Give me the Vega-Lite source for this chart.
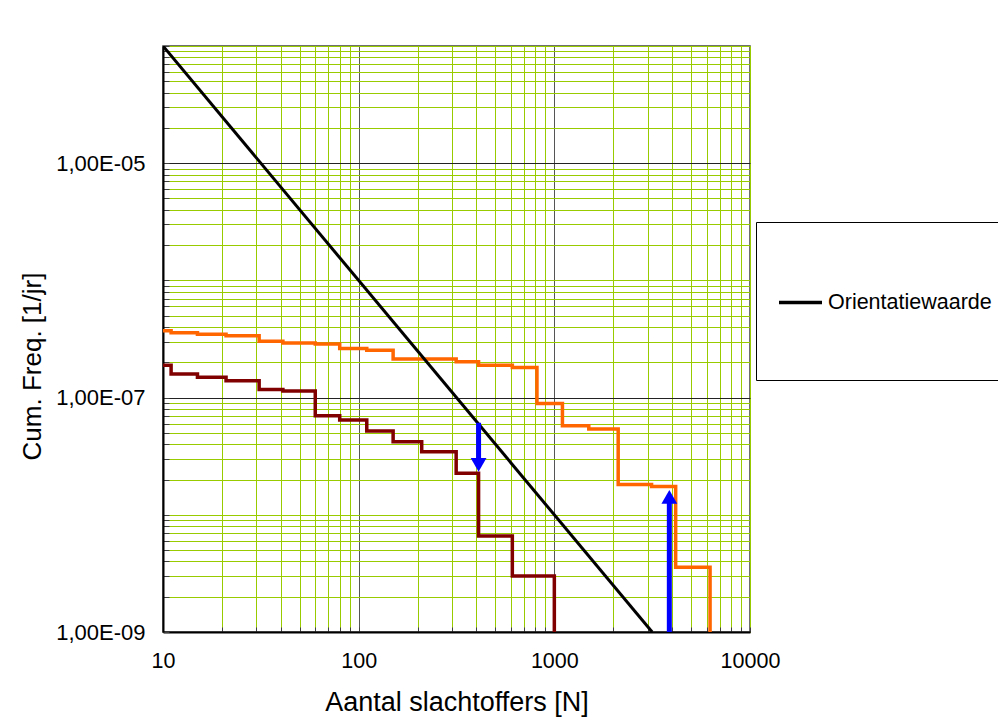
{
  "$schema": "https://vega.github.io/schema/vega-lite/v6.json",
  "width": 587,
  "height": 586,
  "autosize": {"type": "none"},
  "padding": {"left": 163, "top": 46, "right": 248, "bottom": 92},
  "background": "white",
  "config": {
    "font": "Liberation Sans",
    "view": {"stroke": "#404040", "strokeWidth": 1.5},
    "axis": {
      "labelFont": "Liberation Sans",
      "titleFont": "Liberation Sans",
      "labelColor": "#000000",
      "titleColor": "#000000",
      "titleFontWeight": "normal",
      "labelFontSize": 21.5,
      "titleFontSize": 26,
      "labelOverlap": false,
      "labelFlush": false,
      "labelBound": false,
      "domainColor": "#000000",
      "domainWidth": 2,
      "tickColor": "#404040",
      "gridWidth": 1
    },
    "legend": {
      "labelFont": "Liberation Sans"
    }
  },
  "datasets": {
    "orange": [
      {"N": 10, "F": 3.71e-7}, {"N": 11, "F": 3.57e-7}, {"N": 15, "F": 3.48e-7},
      {"N": 21, "F": 3.37e-7}, {"N": 31, "F": 3.03e-7}, {"N": 41, "F": 2.93e-7},
      {"N": 60, "F": 2.86e-7}, {"N": 80, "F": 2.63e-7}, {"N": 110, "F": 2.54e-7},
      {"N": 150, "F": 2.14e-7}, {"N": 315, "F": 2.02e-7}, {"N": 410, "F": 1.89e-7},
      {"N": 610, "F": 1.81e-7}, {"N": 815, "F": 8.9e-8}, {"N": 1100, "F": 5.75e-8},
      {"N": 1500, "F": 5.4e-8}, {"N": 2120, "F": 1.81e-8}, {"N": 3140, "F": 1.74e-8},
      {"N": 4170, "F": 3.56e-9}, {"N": 6250, "F": 1e-9}
    ],
    "darkred": [
      {"N": 10, "F": 1.89e-7}, {"N": 11, "F": 1.59e-7}, {"N": 15, "F": 1.49e-7},
      {"N": 21, "F": 1.39e-7}, {"N": 31, "F": 1.17e-7}, {"N": 41, "F": 1.14e-7},
      {"N": 60, "F": 7.0e-8}, {"N": 80, "F": 6.43e-8}, {"N": 110, "F": 5.18e-8},
      {"N": 150, "F": 4.2e-8}, {"N": 210, "F": 3.45e-8}, {"N": 315, "F": 2.26e-8},
      {"N": 410, "F": 6.6e-9}, {"N": 610, "F": 3.0e-9}, {"N": 1000, "F": 1e-9}
    ],
    "norm": [
      {"N": 10, "F": 1e-4, "serie": "Orientatiewaarde"},
      {"N": 3162.28, "F": 1e-9, "serie": "Orientatiewaarde"}
    ],
    "arrows": [
      {"N": 410, "F1": 6.1e-8, "F2": 2.67e-8, "dir": "down"},
      {"N": 3870, "F1": 1e-9, "F2": 1.42e-8, "dir": "up"}
    ]
  },
  "layer": [
    {
      "data": {"name": "orange"},
      "mark": {"type": "line", "interpolate": "step-after", "color": "#FF6600", "strokeWidth": 3.5, "clip": true},
      "encoding": {
        "x": {
          "field": "N", "type": "quantitative",
          "scale": {"type": "log", "domain": [10, 10000], "nice": false},
          "axis": {
            "title": "Aantal slachtoffers [N]",
            "values": [10,20,30,40,50,60,70,80,90,100,200,300,400,500,600,700,800,900,1000,2000,3000,4000,5000,6000,7000,8000,9000,10000],
            "labelExpr": "datum.value == 10 || datum.value == 100 || datum.value == 1000 || datum.value == 10000 ? format(datum.value, 'd') : ''",
            "grid": true,
            "gridColor": {"condition": {"test": "datum.value == 100 || datum.value == 1000", "value": "#555555"}, "value": "#99CC00"},
            "tickSize": -5,
            "labelPadding": 23,
            "labelBaseline": "top",
            "titleY": 70,
            "titleX": 293.5,
            "titleFontSize": 27,
            "titleAlign": "center",
            "titleBaseline": "middle"
          }
        },
        "y": {
          "field": "F", "type": "quantitative",
          "scale": {"type": "log", "domain": [1e-9, 1e-4], "nice": false},
          "axis": {
            "title": "Cum. Freq. [1/jr]",
            "values": [1e-9,2e-9,3e-9,4e-9,5e-9,6e-9,7e-9,8e-9,9e-9,1e-8,2e-8,3e-8,4e-8,5e-8,6e-8,7e-8,8e-8,9e-8,1e-7,2e-7,3e-7,4e-7,5e-7,6e-7,7e-7,8e-7,9e-7,1e-6,2e-6,3e-6,4e-6,5e-6,6e-6,7e-6,8e-6,9e-6,1e-5,2e-5,3e-5,4e-5,5e-5,6e-5,7e-5,8e-5,9e-5,1e-4],
            "labelExpr": "datum.value == 1e-9 ? '1,00E-09' : datum.value == 1e-7 ? '1,00E-07' : datum.value == 1e-5 ? '1,00E-05' : ''",
            "grid": true,
            "gridColor": {"condition": {"test": "datum.value == 1e-7 || datum.value == 1e-5", "value": "#222222"}, "value": "#99CC00"},
            "tickSize": -6,
            "labelPadding": 24,
            "labelFontSize": 22,
            "labelBaseline": "middle",
            "titleAngle": 270,
            "titleX": -131,
            "titleY": 320,
            "titleAlign": "center",
            "titleBaseline": "middle"
          }
        }
      }
    },
    {
      "data": {"name": "darkred"},
      "mark": {"type": "line", "interpolate": "step-after", "color": "#800000", "strokeWidth": 3.5, "clip": true},
      "encoding": {
        "x": {"field": "N", "type": "quantitative"},
        "y": {"field": "F", "type": "quantitative"}
      }
    },
    {
      "data": {"name": "norm"},
      "mark": {"type": "line", "strokeWidth": 3, "clip": true},
      "encoding": {
        "x": {"field": "N", "type": "quantitative"},
        "y": {"field": "F", "type": "quantitative"},
        "color": {
          "field": "serie", "type": "nominal",
          "scale": {"domain": ["Orientatiewaarde"], "range": ["#000000"]},
          "legend": {
            "title": null,
            "orient": "none",
            "legendX": 593,
            "legendY": 176,
            "padding": 24,
            "strokeColor": "#000000",
            "fillColor": "#ffffff",
            "symbolType": "M-1,0H-0.211M0,-1L0,-1M0,0.85L0,0.85",
            "symbolSize": 11881,
            "symbolStrokeWidth": 3.5,
            "symbolOffset": -3,
            "labelFontSize": 21.5,
            "labelColor": "#000000",
            "labelOffset": -62,
            "labelLimit": 400
          }
        }
      }
    },
    {
      "data": {"name": "arrows"},
      "mark": {"type": "rule", "color": "#0000FF", "strokeWidth": 5},
      "encoding": {
        "x": {"field": "N", "type": "quantitative"},
        "y": {"field": "F1", "type": "quantitative"},
        "y2": {"field": "F2"}
      }
    },
    {
      "data": {"name": "arrows"},
      "mark": {"type": "point", "filled": true, "color": "#0000FF", "size": 250, "opacity": 1},
      "encoding": {
        "x": {"field": "N", "type": "quantitative"},
        "y": {"field": "F2", "type": "quantitative"},
        "shape": {
          "field": "dir", "type": "nominal",
          "scale": {"domain": ["down", "up"], "range": ["triangle-down", "triangle-up"]},
          "legend": null
        }
      }
    }
  ]
}
